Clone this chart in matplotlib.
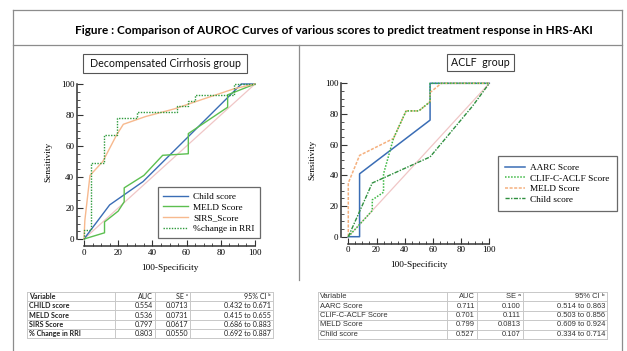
import numpy as np
import matplotlib.pyplot as plt
from matplotlib.lines import Line2D
from matplotlib.patches import Rectangle

W, H = 627, 351

# ---- data: decompensated cirrhosis group
child_x = [0, 15, 34.5, 92, 100]
child_y = [0, 22, 37, 100, 100]
meld_x = [0, 12, 12, 20, 23.5, 23.5, 35, 46, 61, 61, 84, 84, 100]
meld_y = [0, 4, 11, 18, 24, 33, 41, 54, 55, 68, 85, 93, 100]
sirs_x = [0, 0.5, 3.5, 11, 19, 23, 36, 53, 69, 88, 100]
sirs_y = [0, 12, 41, 50, 67, 74, 79, 84, 90, 97, 100]
rri_x = [0, 0, 4, 4, 11.5, 11.5, 19.5, 19.5, 31, 31, 54.5, 54.5, 61, 61, 65, 65, 88, 88, 100]
rri_y = [0, 6, 6, 49, 49, 67, 67, 78, 78, 82, 82, 86, 86, 89, 89, 93, 93, 100, 100]

# ---- data: ACLF group
aarc_x = [0, 8, 8, 58, 58, 100]
aarc_y = [0, 0, 41, 76, 100, 100]
clif_x = [0, 17, 17, 25, 25, 32, 41, 50, 58, 58, 100]
clif_y = [0, 17, 24, 29, 41, 64, 82, 82, 88, 100, 100]
meldr_x = [0, 0, 8, 32, 41, 50, 58, 58, 66, 100]
meldr_y = [0, 35, 53, 64, 82, 82, 88, 94, 100, 100]
childr_x = [0, 17, 58, 88, 100]
childr_y = [0, 35, 52, 85, 100]

# ---- tables
cols = ["Variable", "AUC", "SE \u1d43", "95% CI \u1d47"]
left_vars = ["CHILD score", "MELD Score", "SIRS Score", "% Change in RRI"]
left_auc = ["0.554", "0.536", "0.797", "0.803"]
left_se = ["0.0713", "0.0731", "0.0617", "0.0550"]
left_ci = ["0.432 to 0.671", "0.415 to 0.655", "0.686 to 0.883", "0.692 to 0.887"]
right_vars = ["AARC Score", "CLIF-C-ACLF Score", "MELD Score", "Child score"]
right_auc = ["0.711", "0.701", "0.799", "0.527"]
right_se = ["0.100", "0.111", "0.0813", "0.107"]
right_ci = ["0.514 to 0.863", "0.503 to 0.856", "0.609 to 0.924", "0.334 to 0.714"]

SERIF = ["Liberation Serif", "DejaVu Serif"]


def fx(x):
    return x / W


def fy(y):
    return 1 - y / H


fig = plt.figure(figsize=(W / 100, H / 100), dpi=100)


def hline(x0, x1, y, c="#8c8c8c", lw=0.9):
    fig.add_artist(Line2D([fx(x0), fx(x1)], [fy(y), fy(y)], color=c, lw=lw, transform=fig.transFigure))


def vline(x, y0, y1, c="#8c8c8c", lw=0.9):
    fig.add_artist(Line2D([fx(x), fx(x)], [fy(y0), fy(y1)], color=c, lw=lw, transform=fig.transFigure))


# outer frame
hline(13, 622, 10)
hline(13, 622, 45)
vline(13, 10, 351)
vline(622, 10, 351)
vline(299, 45, 280)

fig.text(fx(334), fy(31), "Figure : Comparison of AUROC Curves of various scores to predict treatment response in HRS-AKI",
         ha="center", va="center", fontsize=8.5, weight="bold", family="Lato")


def subtitle(x0, y0, x1, y1, txt):
    fig.add_artist(Rectangle((fx(x0), fy(y1)), fx(x1 - x0), (y1 - y0) / H, fill=False,
                             ec="#555555", lw=0.8, transform=fig.transFigure))
    fig.text(fx((x0 + x1) / 2), fy((y0 + y1) / 2), txt, ha="center", va="center",
             fontsize=7.7, family="Lato", color="#111111")


subtitle(83, 54, 247, 73, "Decompensated Cirrhosis group")
subtitle(447, 54, 514, 71, "ACLF  group")


def style_axes(ax):
    for s in ["top", "right"]:
        ax.spines[s].set_visible(False)
    for s in ["left", "bottom"]:
        ax.spines[s].set_position(("outward", 5))
        ax.spines[s].set_color("#333333")
        ax.spines[s].set_linewidth(1.1)
    ax.set_xlim(0, 100)
    ax.set_ylim(0, 100)
    ax.set_xticks(np.arange(0, 101, 20))
    ax.set_yticks(np.arange(0, 101, 20))
    ax.set_xticks(np.arange(0, 101, 5), minor=True)
    ax.set_yticks(np.arange(0, 101, 5), minor=True)
    ax.tick_params(which="major", direction="in", length=4, width=0.8, color="#333333", pad=2, labelsize=6.5)
    ax.tick_params(which="minor", direction="in", length=2, width=0.6, color="#333333")
    for lab in ax.get_xticklabels() + ax.get_yticklabels():
        lab.set_family(SERIF)
    ax.set_xlabel("100-Specificity", family=SERIF, fontsize=6.7, labelpad=5)
    ax.set_ylabel("Sensitivity", family=SERIF, fontsize=6.7, labelpad=6)
    ax.plot([0, 100], [0, 100], color="#f0c6c6", lw=0.9, zorder=1, clip_on=False)


# left plot
ax1 = fig.add_axes([fx(84), fy(239), (255 - 84) / W, (239 - 84) / H])
style_axes(ax1)
ax1.plot(child_x, child_y, color="#3a6db5", lw=1.0, label="Child score", clip_on=False)
ax1.plot(meld_x, meld_y, color="#5cbf50", lw=1.0, label="MELD Score", clip_on=False)
ax1.plot(sirs_x, sirs_y, color="#f7b98e", lw=1.0, label="SIRS_Score", clip_on=False)
ax1.plot(rri_x, rri_y, color="#2e9a3c", lw=1.0, ls=(0, (1, 1)), label="%change in RRI", clip_on=False)
leg = ax1.legend(loc="upper right", bbox_to_anchor=(1.03, 0.335), borderaxespad=0, fancybox=False,
                 prop={"family": SERIF, "size": 6.7}, handlelength=2.6, labelspacing=0.22,
                 borderpad=0.6, handletextpad=0.6)
leg.get_frame().set_edgecolor("#444444")
leg.get_frame().set_linewidth(0.9)

# right plot
ax2 = fig.add_axes([fx(348.3), fy(236.7), 141 / W, 153.4 / H])
style_axes(ax2)
ax2.plot(aarc_x, aarc_y, color="#3a6db5", lw=1.1, label="AARC Score", clip_on=False)
ax2.plot(meldr_x, meldr_y, color="#f5b07e", lw=1.1, ls=(0, (2, 1)), label="MELD Score", clip_on=False)
ax2.plot(clif_x, clif_y, color="#3cb843", lw=1.1, ls=(0, (1, 1)), label="CLIF-C-ACLF Score", clip_on=False)
ax2.plot(childr_x, childr_y, color="#2f8f3f", lw=1.0, ls=(0, (3, 1, 1, 1)), label="Child score", clip_on=False)
h, l = ax2.get_legend_handles_labels()
order = [0, 2, 1, 3]
leg2 = ax2.legend([h[i] for i in order], [l[i] for i in order], loc="upper left", bbox_to_anchor=(1.062, 0.526),
                  borderaxespad=0, fancybox=False, prop={"family": SERIF, "size": 6.7},
                  handlelength=2.1, labelspacing=0.22, borderpad=0.8, handletextpad=0.5)
leg2.get_frame().set_edgecolor("#444444")
leg2.get_frame().set_linewidth(0.9)


def draw_table(xs, y0, y1, rows, family, size, bold_labels, header_bold, color):
    n = len(rows) + 1
    ys = np.linspace(y0, y1, n + 1)
    for y in ys:
        hline(xs[0], xs[-1], y, c="#c8c8c8", lw=0.7)
    for x in xs:
        vline(x, y0, y1, c="#c8c8c8", lw=0.7)
    table = [cols] + rows
    for r, row in enumerate(table):
        yc = (ys[r] + ys[r + 1]) / 2
        for c, val in enumerate(row):
            w = "bold" if (r == 0 and header_bold and c == 0) or (r > 0 and c == 0 and bold_labels) else "normal"
            if c == 0:
                fig.text(fx(xs[0] + 2), fy(yc), val, ha="left", va="center", fontsize=size,
                         family=family, weight=w, color=color)
            else:
                fig.text(fx(xs[c + 1] - 2), fy(yc), val, ha="right", va="center", fontsize=size,
                         family=family, weight=w, color=color)


left_rows = [list(r) for r in zip(left_vars, left_auc, left_se, left_ci)]
right_rows = [list(r) for r in zip(right_vars, right_auc, right_se, right_ci)]
draw_table([27, 115, 155, 190, 273], 292, 338, left_rows, ["Lato", "DejaVu Sans"], 5.1, True, True, "#222222")
draw_table([318, 447, 477, 523, 607], 292, 339, right_rows, ["Liberation Sans", "DejaVu Sans"], 5.4, False, False, "#333333")

fig.savefig("out.png", dpi=100)
